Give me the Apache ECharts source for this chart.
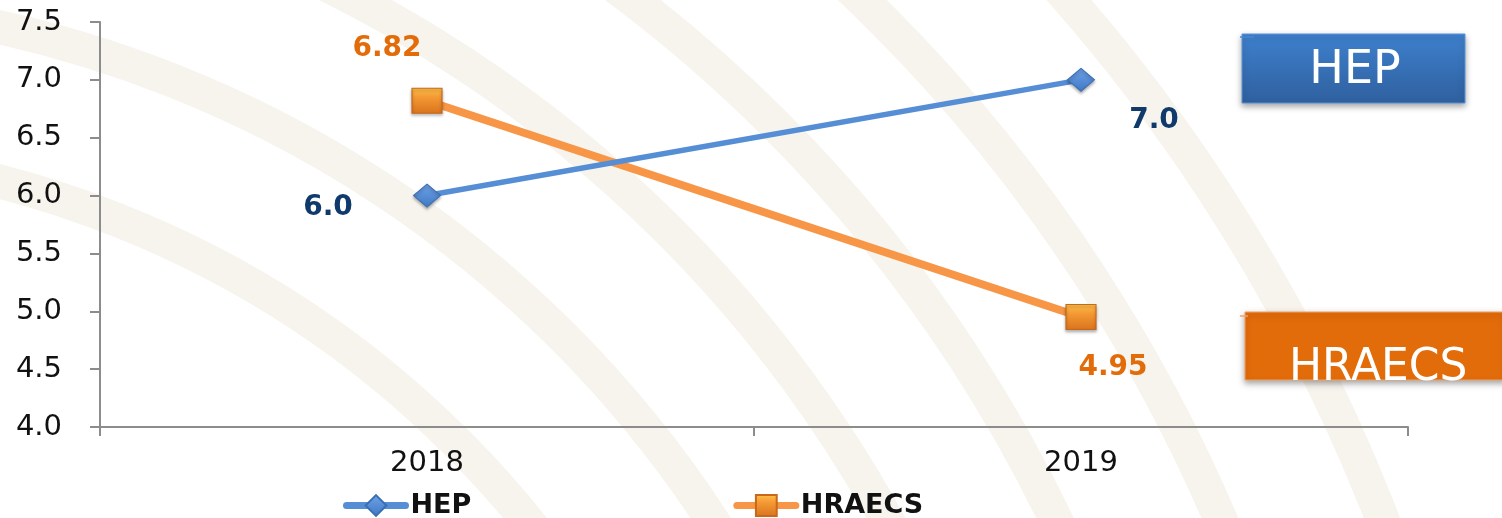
<!DOCTYPE html>
<html>
<head>
<meta charset="utf-8">
<script src="https://cdn.jsdelivr.net/npm/echarts@6/dist/echarts.min.js"></script>
<style>
html,body{margin:0;padding:0;background:#fff;}
#chart{width:1502px;height:518px;}
</style>
</head>
<body>
<div id="chart"></div>
<script>
var categories = ['2018', '2019'];
var hepValues = [6.0, 7.0];
var hraecsValues = [6.82, 4.95];
var hepLabels = ['6.0', '7.0'];
var hraecsLabels = ['6.82', '4.95'];
var yTicks = { min: 4.0, max: 7.5, interval: 0.5 };

var FONT = '"DejaVu Sans", sans-serif';
var hepOffsets = [[-99, 12], [73, 41]];
var hraOffsets = [[-40, -52], [32, 51]];

function buildData(values, labels, offsets, color) {
  return values.map(function (v, i) {
    return {
      value: v,
      label: {
        show: true,
        position: 'inside',
        offset: offsets[i],
        formatter: labels[i],
        color: color,
        fontFamily: FONT,
        fontWeight: 'bold',
        fontSize: 28
      }
    };
  });
}

var chart = echarts.init(document.getElementById('chart'), null, { renderer: 'canvas' });

var bgArcs = [];
var arcSpecs = [
  { cx: -250, cy: 1150, r: 1000 },
  { cx: -250, cy: 1150, r: 1150 },
  { cx: -250, cy: 1150, r: 1300 },
  { cx: -250, cy: 1150, r: 1450 },
  { cx: -250, cy: 1150, r: 1600 },
  { cx: -250, cy: 1150, r: 1750 }
];
arcSpecs.forEach(function (a) {
  bgArcs.push({
    type: 'arc',
    silent: true,
    z: -10,
    shape: { cx: a.cx, cy: a.cy, r: a.r, startAngle: -Math.PI / 2, endAngle: 0 },
    style: { stroke: '#f7f4ee', lineWidth: 34, fill: null }
  });
});

var option = {
  backgroundColor: '#ffffff',
  animation: false,
  grid: { left: 100, right: 94, top: 22, bottom: 91, containLabel: false },
  legend: {
    left: 343,
    top: 492,
    padding: 0,
    itemWidth: 59,
    itemHeight: 26,
    itemGap: 262,
    textStyle: { fontFamily: FONT, fontWeight: 'bold', fontSize: 27, color: '#111' },
    data: [
      { name: 'HEP', lineStyle: { width: 7, cap: 'round' } },
      { name: 'HRAECS', lineStyle: { width: 7, cap: 'round' } }
    ]
  },
  xAxis: {
    type: 'category',
    data: categories,
    boundaryGap: true,
    axisLine: { lineStyle: { color: '#8c8c8c', width: 2 } },
    axisTick: { show: true, inside: false, length: 9, lineStyle: { color: '#8c8c8c', width: 2 } },
    axisLabel: { margin: 22, fontFamily: FONT, fontSize: 29, color: '#111' },
    splitLine: { show: false }
  },
  yAxis: {
    type: 'value',
    min: yTicks.min,
    max: yTicks.max,
    interval: yTicks.interval,
    axisLine: { show: true, lineStyle: { color: '#8c8c8c', width: 2 } },
    axisTick: { show: true, length: 10, lineStyle: { color: '#8c8c8c', width: 2 } },
    axisLabel: {
      margin: 38, fontFamily: FONT, fontSize: 29, color: '#111',
      formatter: function (v) { return v.toFixed(1); }
    },
    splitLine: { show: false }
  },
  graphic: bgArcs.concat([
    {
      type: 'rect',
      z: 10,
      shape: { x: 1242, y: 34, width: 223, height: 69 },
      style: {
        fill: new echarts.graphic.LinearGradient(0, 0, 0, 1, [
          { offset: 0, color: '#3e80cd' },
          { offset: 1, color: '#2f609f' }
        ]),
        stroke: '#5b93d8',
        lineWidth: 1,
        shadowBlur: 6,
        shadowOffsetY: 3,
        shadowColor: 'rgba(0,0,0,0.35)'
      }
    },
    {
      type: 'text',
      z: 11,
      style: {
        x: 1355, y: 71, text: 'HEP', fill: '#ffffff',
        font: '46px "DejaVu Sans", sans-serif',
        textAlign: 'center', textVerticalAlign: 'middle'
      }
    },
    {
      type: 'line', z: 11,
      shape: { x1: 1240, y1: 37, x2: 1254, y2: 37 },
      style: { stroke: '#4a86cf', lineWidth: 1.5 }
    },
    {
      type: 'rect',
      z: 10,
      shape: { x: 1245, y: 312, width: 260, height: 68 },
      style: {
        fill: '#e36c0a',
        stroke: '#f0a36a',
        lineWidth: 1,
        shadowBlur: 6,
        shadowOffsetY: 3,
        shadowColor: 'rgba(0,0,0,0.35)'
      }
    },
    {
      type: 'text',
      z: 11,
      style: {
        x: 1289, y: 369, text: 'HRAECS', fill: '#ffffff',
        font: '44px "DejaVu Sans", sans-serif',
        textAlign: 'left', textVerticalAlign: 'middle'
      }
    },
    {
      type: 'line', z: 11,
      shape: { x1: 1240, y1: 316, x2: 1248, y2: 316 },
      style: { stroke: '#f0a36a', lineWidth: 1.5 }
    }
  ]),
  series: [
    {
      name: 'HEP',
      type: 'line',
      data: buildData(hepValues, hepLabels, hepOffsets, '#0f3a6b'),
      symbol: 'diamond',
      symbolSize: [27, 23],
      lineStyle: { color: '#558ed5', width: 5.5 },
      itemStyle: {
        color: new echarts.graphic.LinearGradient(0, 0, 0, 1, [
          { offset: 0, color: '#6fa3e8' },
          { offset: 1, color: '#3f78c4' }
        ]),
        borderColor: '#3b6fb3',
        borderWidth: 1,
        shadowBlur: 3,
        shadowOffsetY: 2,
        shadowColor: 'rgba(0,0,0,0.3)'
      },
      z: 3
    },
    {
      name: 'HRAECS',
      type: 'line',
      data: buildData(hraecsValues, hraecsLabels, hraOffsets, '#e36c0a'),
      symbol: 'rect',
      symbolSize: [30, 25],
      lineStyle: { color: '#f79646', width: 8 },
      itemStyle: {
        color: new echarts.graphic.LinearGradient(0, 0, 0, 1, [
          { offset: 0, color: '#fdc24a' },
          { offset: 0.35, color: '#f59a35' },
          { offset: 1, color: '#d9731c' }
        ]),
        borderColor: '#c9671a',
        borderWidth: 1,
        shadowBlur: 3,
        shadowOffsetY: 2,
        shadowColor: 'rgba(0,0,0,0.3)'
      },
      z: 2
    }
  ]
};
chart.setOption(option);
</script>
</body>
</html>
